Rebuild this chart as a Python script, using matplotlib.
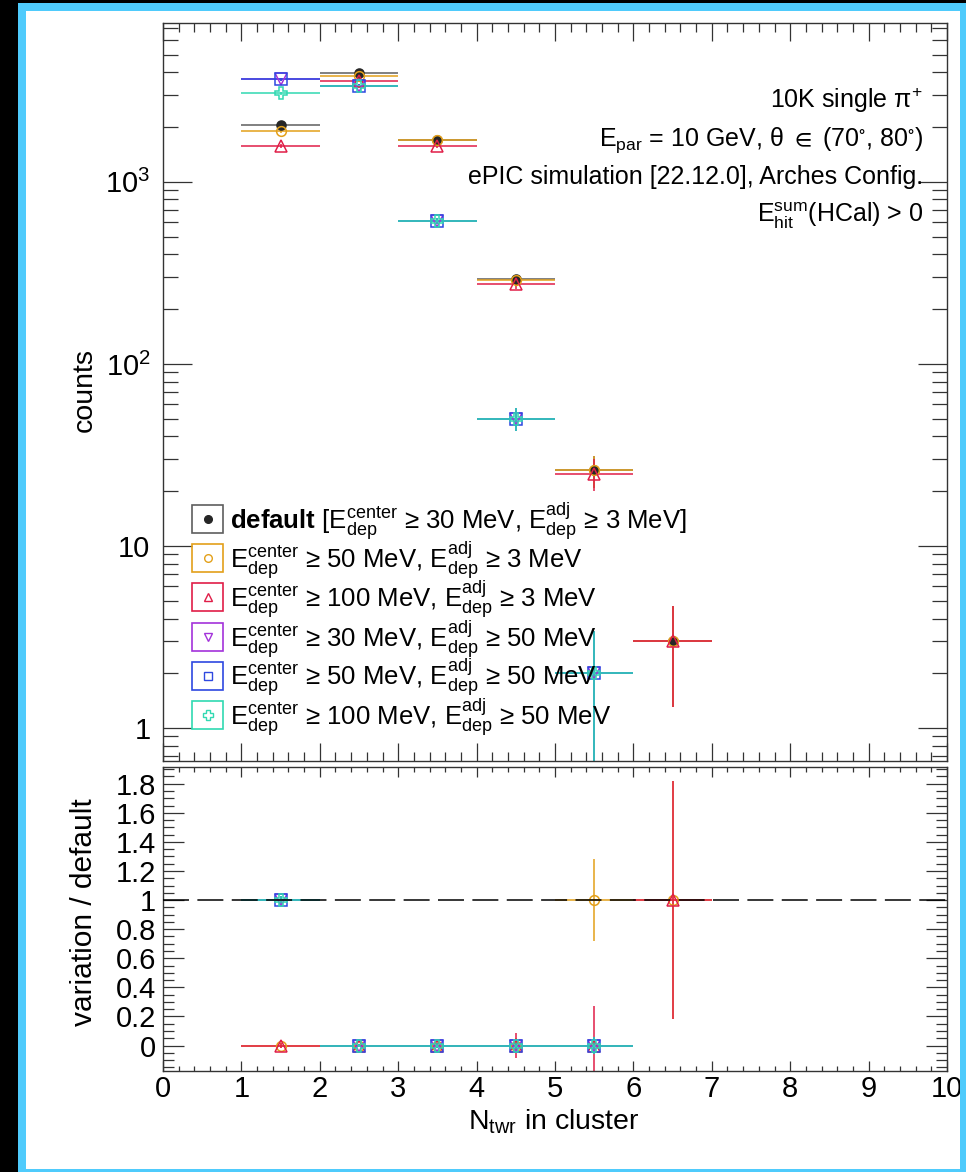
import numpy as np
import matplotlib
matplotlib.use('Agg')
import matplotlib.pyplot as plt
from matplotlib.patches import Rectangle
from matplotlib.lines import Line2D
from matplotlib.ticker import (FixedLocator, FixedFormatter, MultipleLocator,
                               NullFormatter, LogLocator, FuncFormatter)

plt.rcParams['font.family'] = ['Liberation Sans', 'DejaVu Sans']
plt.rcParams['mathtext.fontset'] = 'custom'
plt.rcParams['mathtext.rm'] = 'Liberation Sans'
plt.rcParams['mathtext.it'] = 'Liberation Sans:italic'
plt.rcParams['mathtext.bf'] = 'Liberation Sans:bold'
plt.rcParams['mathtext.sf'] = 'Liberation Sans'
plt.rcParams['mathtext.fallback'] = 'stixsans'
plt.rcParams['mathtext.default'] = 'regular'

# ---------------- data ----------------
bin_centers = [1.5, 2.5, 3.5, 4.5, 5.5, 6.5]
bin_half_width = 0.5

counts_default = [2055, 3954, 1694, 292, 26, 3]
err_default = [45, 63, 41, 17, 5.1, 1.7]
counts_c50_a3 = [1905, 3820, 1690, 290, 26, 3]
err_c50_a3 = [44, 62, 41, 17, 5.1, 1.7]
counts_c100_a3 = [1565, 3590, 1565, 275, 25, 3]
err_c100_a3 = [40, 60, 40, 16.6, 5.0, 1.7]
counts_c30_a50 = [3652, 3366, 608, 50, 2]
err_c30_a50 = [60, 58, 25, 7.1, 1.4]
counts_c50_a50 = [3652, 3366, 608, 50, 2]
err_c50_a50 = [60, 58, 25, 7.1, 1.4]
counts_c100_a50 = [3060, 3340, 608, 50, 2]
err_c100_a50 = [55, 58, 25, 7.1, 1.4]

ratio_c50_a3 = [0, 0, 0, 0, 1, 1]
rerr_c50_a3 = [0.02, 0.01, 0.02, 0.05, 0.28, 0.82]
ratio_c100_a3 = [0, 0, 0, 0, 0, 1]
rerr_c100_a3 = [0.02, 0.01, 0.02, 0.083, 0.27, 0.82]
ratio_c30_a50 = [1, 0, 0, 0, 0]
rerr_c30_a50 = [0.03, 0.01, 0.015, 0.025, 0.06]
ratio_c50_a50 = [1, 0, 0, 0, 0]
rerr_c50_a50 = [0.03, 0.01, 0.015, 0.025, 0.06]
ratio_c100_a50 = [1, 0, 0, 0, 0]
rerr_c100_a50 = [0.03, 0.01, 0.015, 0.025, 0.06]

legend_labels = [
    r"$\mathbf{default}$ [$E_{dep}^{center}$ ≥ 30 MeV, $E_{dep}^{adj}$ ≥ 3 MeV]",
    r"$E_{dep}^{center}$ ≥ 50 MeV, $E_{dep}^{adj}$ ≥ 3 MeV",
    r"$E_{dep}^{center}$ ≥ 100 MeV, $E_{dep}^{adj}$ ≥ 3 MeV",
    r"$E_{dep}^{center}$ ≥ 30 MeV, $E_{dep}^{adj}$ ≥ 50 MeV",
    r"$E_{dep}^{center}$ ≥ 50 MeV, $E_{dep}^{adj}$ ≥ 50 MeV",
    r"$E_{dep}^{center}$ ≥ 100 MeV, $E_{dep}^{adj}$ ≥ 50 MeV",
]
info_lines = [
    r"10K single π$^{+}$",
    r"$E_{par}$ = 10 GeV, θ $\in$ (70$^{\circ}$, 80$^{\circ}$)",
    r"ePIC simulation [22.12.0], Arches Config.",
    r"$E_{hit}^{sum}$(HCal) > 0",
]
xtick_labels = ['0', '1', '2', '3', '4', '5', '6', '7', '8', '9', '10']

# ---------------- styles ----------------
C_DEF_M = '#262626'
C_DEF_L = '#5e5e5e'
C_OR = '#E3A01A'
C_RED = '#E01E48'
C_PUR = '#A332DA'
C_BLU = '#2E48E0'
C_CYA = '#30D9B2'

W, H = 966, 1172
fig = plt.figure(figsize=(W / 100, H / 100), dpi=100)
fig.patch.set_facecolor('white')

def fx(px):
    return px / W

def fy(py):
    return 1 - py / H

ax1 = fig.add_axes([fx(163), fy(761), (947 - 163) / W, (761 - 23) / H])
ax2 = fig.add_axes([fx(163), fy(1071), (947 - 163) / W, (1071 - 767) / H])

series = [
    # counts, err, ratio, rerr, marker, color, line color, filled
    (counts_default, err_default, None, None, 'o', C_DEF_M, C_DEF_L, True),
    (counts_c50_a3, err_c50_a3, ratio_c50_a3, rerr_c50_a3, 'o', C_OR, C_OR, False),
    (counts_c100_a3, err_c100_a3, ratio_c100_a3, rerr_c100_a3, '^', C_RED, C_RED, False),
    (counts_c30_a50, err_c30_a50, ratio_c30_a50, rerr_c30_a50, 'v', C_PUR, C_PUR, False),
    (counts_c50_a50, err_c50_a50, ratio_c50_a50, rerr_c50_a50, 's', C_BLU, C_BLU, False),
    (counts_c100_a50, err_c100_a50, ratio_c100_a50, rerr_c100_a50, 'P', C_CYA, C_CYA, False),
]
msizes = {'o': 7, '^': 8.5, 'v': 8.5, 's': 8, 'P': 8.5}

for counts, err, ratio, rerr, mk, col, lcol, filled in series:
    xs = bin_centers[:len(counts)]
    ms = 6.5 if filled else msizes[mk]
    ax1.errorbar(xs, counts, xerr=bin_half_width, yerr=err, fmt=mk, ms=ms,
                 mfc=col if filled else 'none', mec=col, mew=1.1,
                 ecolor=lcol, elinewidth=1.1, capsize=0)
    if ratio is not None:
        xr = bin_centers[:len(ratio)]
        ax2.errorbar(xr, ratio, xerr=bin_half_width, yerr=rerr, fmt=mk, ms=ms,
                     mfc='none', mec=col, mew=1.1, ecolor=lcol,
                     elinewidth=1.1, capsize=0)

ax2.axhline(1.0, color='black', lw=1.1, ls=(0, (17, 5.5)), zorder=6)

# ---------------- axes formatting ----------------
for ax in (ax1, ax2):
    ax.set_xlim(0, 10)
    for s in ax.spines.values():
        s.set_color('#333333')
        s.set_linewidth(1.0)
    ax.tick_params(which='both', direction='in', top=True, right=True,
                   colors='#333333', width=0.9, labelcolor='black',
                   labelsize=21)
    ax.xaxis.set_major_locator(MultipleLocator(1))
    ax.xaxis.set_minor_locator(MultipleLocator(0.2))

ax1.set_yscale('log')
ax1.set_ylim(0.66, 7450)
ax1.yaxis.set_major_locator(FixedLocator([1, 10, 100, 1000]))
ax1.yaxis.set_major_formatter(FixedFormatter(['1', '10', r'$10^{2}$', r'$10^{3}$']))
ax1.yaxis.set_minor_locator(LogLocator(base=10, subs=np.arange(2, 10)))
ax1.yaxis.set_minor_formatter(NullFormatter())
ax1.tick_params(axis='x', which='major', length=13, labelbottom=False)
ax1.tick_params(axis='x', which='minor', length=6.5)
ax1.tick_params(axis='y', which='major', length=21, pad=9)
ax1.tick_params(axis='y', which='minor', length=10.5)
ax1.set_ylabel('counts', fontsize=20.5)
ax1.yaxis.set_label_coords(-0.083, 0.503)

ax2.set_ylim(-0.175, 1.915)
ax2.yaxis.set_major_locator(MultipleLocator(0.2))
ax2.yaxis.set_minor_locator(MultipleLocator(0.05))

def _fmt(v, pos):
    v = round(v, 1)
    if abs(v) < 1e-9:
        return '0'
    return f'{v:g}'

ax2.yaxis.set_major_formatter(FuncFormatter(_fmt))
ax2.xaxis.set_major_locator(FixedLocator(range(len(xtick_labels))))
ax2.xaxis.set_major_formatter(FixedFormatter(xtick_labels))
ax2.tick_params(axis='x', which='major', length=7, pad=3)
ax2.tick_params(axis='x', which='minor', length=3.6)
ax2.tick_params(axis='y', which='major', length=15, pad=5)
ax2.tick_params(axis='y', which='minor', length=8)
ax2.set_ylabel('variation / default', fontsize=21.5)
ax2.yaxis.set_label_coords(-0.083, 0.523)
ax2.set_xlabel(r'$N_{twr}$ in cluster', fontsize=20.5)
ax2.xaxis.set_label_coords(0.4987, -0.12)

# ---------------- info text ----------------
info_baselines = [108, 146, 184, 222]
for txt, yb in zip(info_lines, info_baselines):
    fig.text(fx(923), fy(yb), txt, ha='right', va='baseline', fontsize=18)

# ---------------- legend (manual, ROOT style boxes) ----------------
leg_centers = [519, 558, 597, 637, 676, 715]
for (counts, err, ratio, rerr, mk, col, lcol, filled), lab, yc in zip(series, legend_labels, leg_centers):
    box_col = C_DEF_L if filled else col
    fig.add_artist(Rectangle((fx(192), fy(yc + 14)), 31 / W, 28 / H,
                             transform=fig.transFigure, fill=False,
                             edgecolor=box_col, lw=1.2))
    fig.add_artist(Line2D([fx(207.5)], [fy(yc)], transform=fig.transFigure,
                          marker=mk, ms=5.5 if mk != 'P' else 6.5,
                          mfc=col if filled else 'none', mec=col, mew=1.0,
                          ls='none'))
    fig.text(fx(230), fy(yc + 9.5), lab, ha='left', va='baseline', fontsize=18.5)

# ---------------- canvas frame ----------------
BLUE = '#4FCBFC'
frame_rects = [
    (0, 0, 18, H, 'black'),
    (0, 0, W, 3, 'black'),
    (18, 3, 8, H - 3, BLUE),
    (18, 3, W - 18, 8, BLUE),
    (960, 3, 6, H - 3, BLUE),
    (18, 1169, W - 18, 3, BLUE),
]
for x0, y0, w, h, c in frame_rects:
    fig.add_artist(Rectangle((fx(x0), fy(y0 + h)), w / W, h / H,
                             transform=fig.transFigure, facecolor=c,
                             edgecolor='none', zorder=20))

fig.savefig('out.png', dpi=100, facecolor='white')
